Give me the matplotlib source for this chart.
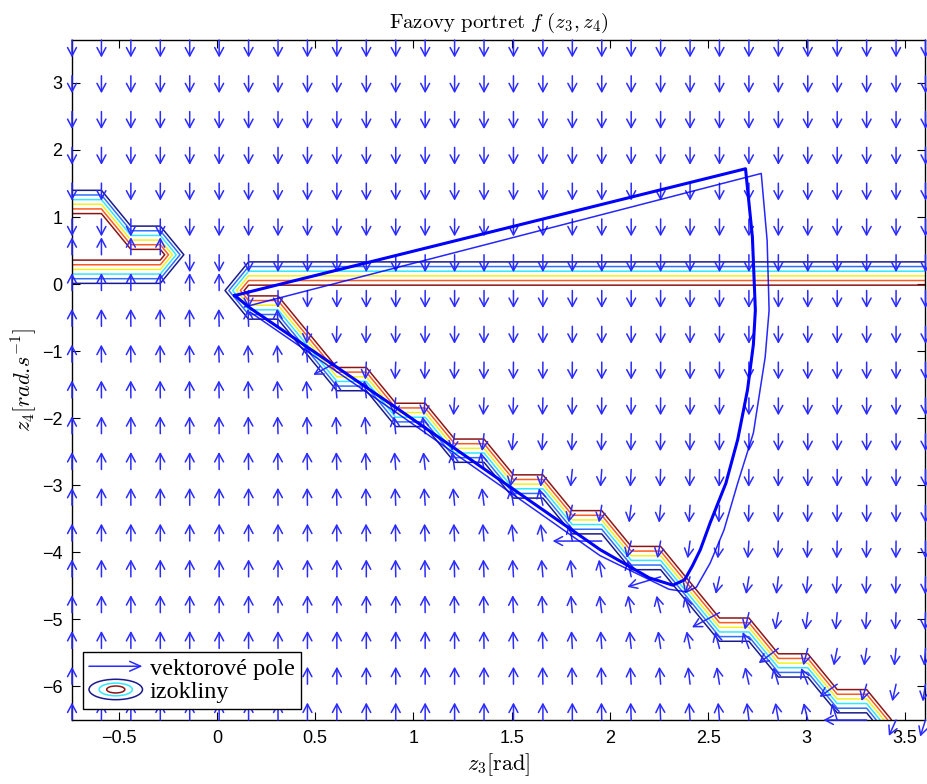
import numpy as np
import matplotlib
matplotlib.use("Agg")
import matplotlib.pyplot as plt
from matplotlib.patches import FancyArrowPatch, Ellipse
from matplotlib.legend_handler import HandlerBase
from matplotlib.lines import Line2D
from matplotlib.ticker import FuncFormatter

plt.rcParams["font.family"] = ["Liberation Sans", "DejaVu Sans"]
plt.rcParams["mathtext.fontset"] = "cm"

# ---- data ------------------------------------------------------------
Z3_LIM = [-0.738, 3.606]
Z4_LIM = [-6.5, 3.64]
N_COLS = 30
N_ROWS = 20

# first grid column of the switching wedge for grid rows 0..12 (bottom up)
WEDGE_START = [28, 26, 24, 22, 21, 19, 17, 15, 13, 11, 9, 8, 6]
# left "hook" of the isoclines: grid rows and how many columns from the left edge
BLOB_ROWS = [13, 14]
BLOB_LEN = [4, 2]
BLOB_UP_ROWS = [13]

ISO_LEVELS = [0.20, 0.33, 0.46, 0.59, 0.72, 0.85]
ISO_COLORS = ["#1a1a8c", "#2f6fff", "#30e8ff", "#f2f21e", "#ff5a1e", "#8b1515"]

# sideways lean of the arrows (x/y in pixels) by distance from the switching line
TILT = [0.45, 0.32, 0.24, 0.17, 0.12, 0.08, 0.06, 0.04, 0.03, 0.02, 0.0]

# longer arrows sitting on the switching line
SPECIAL_COL = [9, 18, 20, 22, 24, 26, 27]
SPECIAL_ROW = [10, 5, 4, 3, 2, 1, 0]
SPECIAL_U = [-0.12, -0.25, -0.17, -0.14, -0.10, -0.09, -0.22]
SPECIAL_V = [-0.19, 0.0, -0.15, -0.22, -0.22, -0.19, 0.0]

# trajectories
THICK_Z3 = [0.09, 2.69, 2.725, 2.74, 2.73, 2.70, 2.65, 2.59, 2.51, 2.46, 2.42, 2.38, 2.32, 2.20, 1.95, 0.93, 0.17, 0.09]
THICK_Z4 = [-0.17, 1.72, 0.70, -0.39, -0.90, -1.58, -2.32, -2.97, -3.56, -3.96, -4.20, -4.41, -4.49, -4.38, -3.96, -1.88, -0.36, -0.17]
THIN_Z3 = [0.14, 2.77, 2.80, 2.81, 2.79, 2.73, 2.65, 2.58, 2.51, 2.44, 2.39, 2.30, 1.95, 0.93, 0.17]
THIN_Z4 = [-0.34, 1.65, 0.65, -0.39, -1.09, -2.22, -2.97, -3.67, -4.16, -4.52, -4.59, -4.55, -4.05, -1.95, -0.42]

XTICKS = [-0.5, 0, 0.5, 1, 1.5, 2, 2.5, 3, 3.5]
YTICKS = [-6, -5, -4, -3, -2, -1, 0, 1, 2, 3]

ARROW_C = "#2b2bff"
TRAJ_C = "#0000ff"

# ---- figure ------------------------------------------------------------
W_PX, H_PX = 928, 784
AX_L, AX_B, AX_W, AX_H = 72, 64, 853.5, 680
fig = plt.figure(figsize=(W_PX / 100, H_PX / 100), dpi=100)
ax = fig.add_axes([AX_L / W_PX, AX_B / H_PX, AX_W / W_PX, AX_H / H_PX])
ax.set_xlim(Z3_LIM)
ax.set_ylim(Z4_LIM)

zx = np.linspace(Z3_LIM[0], Z3_LIM[1], N_COLS)
zy = np.linspace(Z4_LIM[0], Z4_LIM[1], N_ROWS)
X, Y = np.meshgrid(zx, zy)

# isocline field (0/1 cells) contoured on the coarse grid
Z = np.zeros((N_ROWS, N_COLS))
for r, s in enumerate(WEDGE_START):
    Z[r, s:] = 1.0
for r, n in zip(BLOB_ROWS, BLOB_LEN):
    Z[r, :n] = 1.0
ax.contour(X, Y, Z, levels=ISO_LEVELS, colors=ISO_COLORS, linewidths=1.1, zorder=2)

# vector field
px_x = AX_W / (Z3_LIM[1] - Z3_LIM[0])
px_y = AX_H / (Z4_LIM[1] - Z4_LIM[0])
ARROW_PX = 17.5


def draw_arrow(x, y, dx, dy):
    ax.annotate("", xy=(x + dx, y + dy), xytext=(x, y), xycoords="data",
                arrowprops=dict(arrowstyle="->,head_length=0.6,head_width=0.32",
                                color=ARROW_C, lw=1.1, shrinkA=0, shrinkB=0,
                                mutation_scale=10),
                annotation_clip=False, zorder=3)


special = set(zip(SPECIAL_COL, SPECIAL_ROW))
for r in range(N_ROWS):
    for c in range(N_COLS):
        if (c, r) in special:
            continue
        tx = 0.0
        if r < len(WEDGE_START):
            s = WEDGE_START[r]
            if c >= s:
                ty, d = -1.0, c - s
            else:
                ty, d = 1.0, s - 1 - c
            lean = TILT[min(d, len(TILT) - 1)] * max(0.0, -zy[r]) / 6.5
            tx = -lean
        elif r in BLOB_UP_ROWS and c < BLOB_LEN[BLOB_ROWS.index(r)]:
            ty = 1.0
        else:
            ty = -1.0
        n = np.hypot(tx, ty)
        draw_arrow(zx[c], zy[r], ARROW_PX * tx / n / px_x, ARROW_PX * ty / n / px_y)

for c, r, u, v in zip(SPECIAL_COL, SPECIAL_ROW, SPECIAL_U, SPECIAL_V):
    draw_arrow(zx[c], zy[r], u, v)

# trajectories
ax.plot(THICK_Z3, THICK_Z4, color=TRAJ_C, lw=2.2, zorder=4)
ax.plot(THIN_Z3, THIN_Z4, color=TRAJ_C, lw=1.1, alpha=0.85, zorder=4)

# ---- axes styling ------------------------------------------------------
fmt = FuncFormatter(lambda v, p: f"{v:g}".replace("-", "\u2212"))
ax.set_xticks(XTICKS)
ax.set_yticks(YTICKS)
ax.xaxis.set_major_formatter(fmt)
ax.yaxis.set_major_formatter(fmt)
ax.tick_params(direction="in", length=6, width=0.8, top=True, right=True,
               labelsize=13, pad=7)
for sp in ax.spines.values():
    sp.set_linewidth(1.0)

ax.set_title(r"$\mathrm{Fazovy\ portret}\ f\ (z_3, z_4)$", fontsize=15, pad=9)
ax.set_xlabel(r"$z_3[\mathrm{rad}]$", fontsize=16, labelpad=3)
ax.set_ylabel(r"$z_4[rad.\!s^{-1}]$", fontsize=16, labelpad=2)


# ---- legend ------------------------------------------------------------
class HandlerArrow(HandlerBase):
    def create_artists(self, legend, orig_handle, xdescent, ydescent,
                       width, height, fontsize, trans):
        y = (height - ydescent) / 2
        a = FancyArrowPatch((-xdescent, y), (width - xdescent, y),
                            arrowstyle="->,head_length=0.45,head_width=0.2",
                            mutation_scale=fontsize, color=ARROW_C, lw=1.1,
                            shrinkA=0, shrinkB=0, transform=trans)
        return [a]


class HandlerIso(HandlerBase):
    def create_artists(self, legend, orig_handle, xdescent, ydescent,
                       width, height, fontsize, trans):
        cx = width / 2 - xdescent
        cy = (height - ydescent) / 2
        out = []
        for frac, col in [(1.0, ISO_COLORS[0]), (0.62, ISO_COLORS[2]), (0.34, ISO_COLORS[-1])]:
            out.append(Ellipse((cx, cy), width * frac, height * 1.2 * frac,
                               fill=False, edgecolor=col, lw=1.1, transform=trans))
        return out


h_arrow = Line2D([], [], color=ARROW_C)
h_iso = Line2D([], [], color="navy")
leg = ax.legend([h_arrow, h_iso], ["vektorové pole", "izokliny"],
                handler_map={h_arrow: HandlerArrow(), h_iso: HandlerIso()},
                loc="lower left", prop={"family": "Liberation Serif", "size": 17.5},
                fancybox=False, framealpha=1.0, edgecolor="black",
                borderpad=0.25, handlelength=2.2, handletextpad=0.3,
                labelspacing=0.05, borderaxespad=0.45)
leg.get_frame().set_linewidth(1.0)
leg.set_zorder(10)

fig.savefig("out.png", dpi=100)
